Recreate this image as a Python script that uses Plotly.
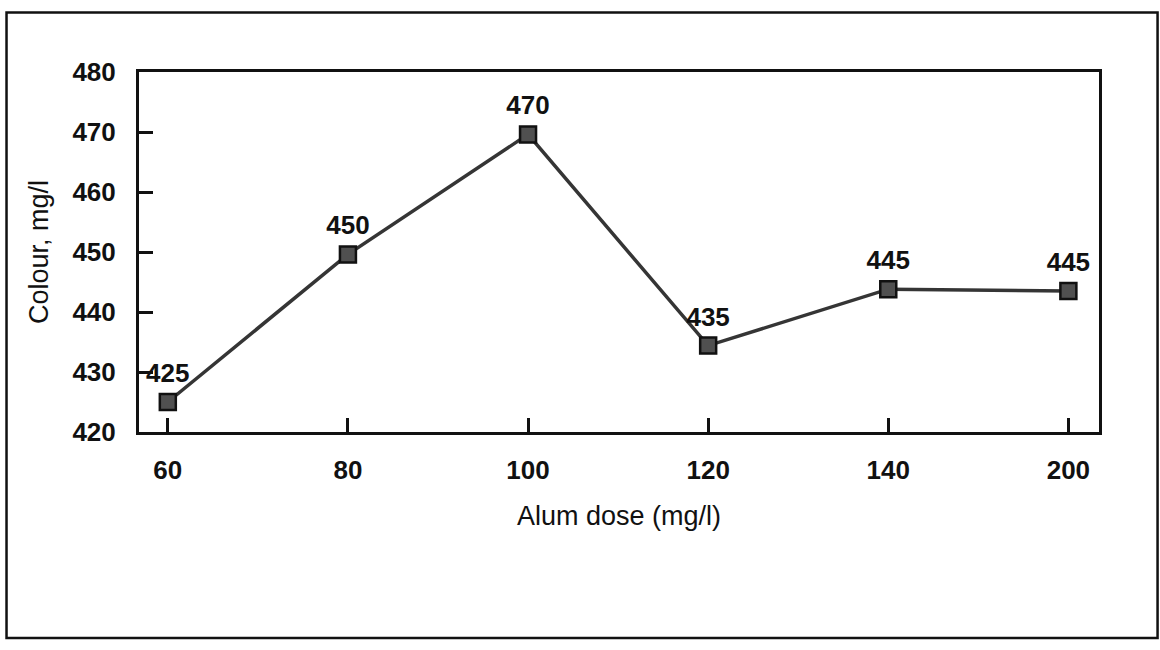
import plotly.graph_objects as go

# Data
alum_dose = ["60", "80", "100", "120", "140", "200"]
colour_plotted = [425, 449.6, 469.6, 434.4, 443.8, 443.5]
colour_labels = ["425", "450", "470", "435", "445", "445"]
y_ticks = [420, 430, 440, 450, 460, 470, 480]

FONT = "Liberation Sans, Arial, sans-serif"

fig = go.Figure()
fig.add_trace(go.Scatter(
    x=alum_dose,
    y=colour_plotted,
    mode="lines+markers",
    line=dict(color="#353535", width=3.5),
    marker=dict(symbol="square", size=16, color="#505050",
                line=dict(color="#111111", width=2.5)),
    hoverinfo="skip",
    showlegend=False,
    cliponaxis=False,
))

# value labels above each point (transparent large marker pushes the text up)
fig.add_trace(go.Scatter(
    x=alum_dose,
    y=colour_plotted,
    mode="markers+text",
    text=["<b>" + t + "</b>" for t in colour_labels],
    textposition="top center",
    textfont=dict(family=FONT, size=26, color="#111111"),
    marker=dict(size=20, color="rgba(0,0,0,0)"),
    hoverinfo="skip",
    showlegend=False,
    cliponaxis=False,
))

fig.add_shape(
    type="rect", xref="paper", yref="paper",
    x0=-0.138, x1=1.061, y0=-0.572, y1=1.165,
    line=dict(color="#111111", width=2.5), fillcolor="rgba(0,0,0,0)",
    layer="below",
)

fig.update_layout(
    width=1160, height=650,
    margin=dict(l=139, r=61, t=72, b=218),
    paper_bgcolor="white", plot_bgcolor="white",
    font=dict(family=FONT, color="#111111"),
    xaxis=dict(
        type="category",
        range=[-0.16, 5.17],
        showline=True, linecolor="#111111", linewidth=3, mirror=True,
        ticks="inside", ticklen=14, tickwidth=3, tickcolor="#111111",
        showgrid=False, zeroline=False,
        tickmode="array", tickvals=alum_dose,
        ticktext=["<b>" + t + "</b>" for t in alum_dose],
        tickfont=dict(size=26, family=FONT),
        ticklabelstandoff=13,
        title=dict(text="Alum dose (mg/l)", font=dict(size=27), standoff=22),
    ),
    yaxis=dict(
        range=[420, 480],
        tickmode="array", tickvals=y_ticks,
        ticktext=["<b>" + str(v) + "</b>" for v in y_ticks],
        showline=True, linecolor="#111111", linewidth=3, mirror=True,
        ticks="inside", ticklen=14, tickwidth=3, tickcolor="#111111",
        showgrid=False, zeroline=False,
        tickfont=dict(size=26, family=FONT),
        ticklabelstandoff=15,
        title=dict(text="Colour, mg/l", font=dict(size=27), standoff=16),
    ),
)

fig.write_html("out.html")
